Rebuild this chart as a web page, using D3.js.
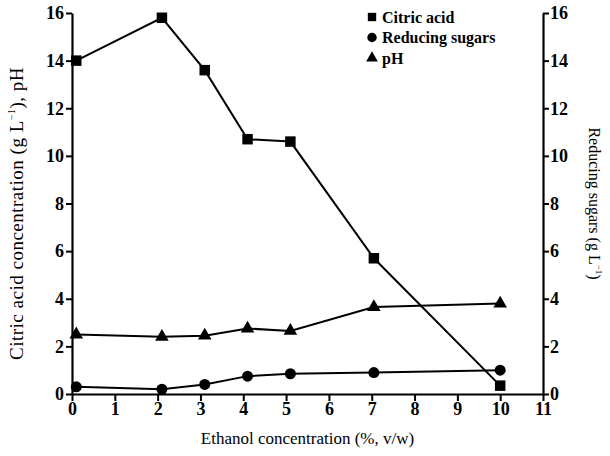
<!DOCTYPE html>
<html>
<head>
<meta charset="utf-8">
<script src="https://cdn.jsdelivr.net/npm/d3@7"></script>
<style>
  body { margin: 0; background: #fff; }
  svg { display: block; }
</style>
</head>
<body>
<div id="chart"></div>
<script>
"use strict";

// ethanol concentration (%, v/w) for each sample
var ethanol = [0.1, 2.1, 3.1, 4.1, 5.1, 7.05, 10];
// citric acid (g/L), reducing sugars (g/L), pH
var citricAcid = [14.0, 15.8, 13.6, 10.7, 10.6, 5.7, 0.35];
var reducingSugars = [0.3, 0.2, 0.4, 0.75, 0.85, 0.9, 1.0];
var pH = [2.5, 2.4, 2.45, 2.75, 2.65, 3.65, 3.8];

var xTicks = [0, 1, 2, 3, 4, 5, 6, 7, 8, 9, 10, 11];
var yTicks = [0, 2, 4, 6, 8, 10, 12, 14, 16];

var legendNames = ["Citric acid", "Reducing sugars", "pH"];

var W = 610, H = 456;
var margin = { top: 13, right: 67, bottom: 62, left: 72 };
var width = W - margin.left - margin.right,
    height = H - margin.top - margin.bottom;
var serif = "'Liberation Serif', 'Times New Roman', serif";

var svg = d3.select("#chart").append("svg")
    .attr("width", W)
    .attr("height", H)
  .append("g")
    .attr("transform", "translate(" + margin.left + "," + margin.top + ")");

// Scales
var x = d3.scaleLinear().domain([0, 11]).range([0, width]);
var yLeft = d3.scaleLinear().domain([0, 16]).range([height, 0]);
var yRight = d3.scaleLinear().domain([0, 16]).range([height, 0]);

// Axes
var xAxis = svg.append("g")
    .attr("transform", "translate(0," + height + ")")
    .call(d3.axisBottom(x).tickValues(xTicks).tickSize(7).tickSizeOuter(0).tickPadding(1));
var lAxis = svg.append("g")
    .call(d3.axisLeft(yLeft).tickValues(yTicks).tickSize(6).tickSizeOuter(0).tickPadding(2));
var rAxis = svg.append("g")
    .attr("transform", "translate(" + width + ",0)")
    .call(d3.axisRight(yRight).tickValues(yTicks).tickSize(6).tickSizeOuter(0).tickPadding(1));

[xAxis, lAxis, rAxis].forEach(function (a) {
  a.attr("font-family", null).attr("font-size", null);
  a.select(".domain").attr("stroke", "#000").attr("stroke-width", 2.2);
  a.selectAll(".tick line").attr("stroke", "#000").attr("stroke-width", 2);
  a.selectAll(".tick text")
   .attr("fill", "#000")
   .style("font-family", serif)
   .style("font-weight", "bold")
   .style("font-size", "18px");
});

// Lines
function drawSeries(vals, scale, shape, size) {
  var pts = ethanol.map(function (e, i) { return [e, vals[i]]; });
  svg.append("path")
     .datum(pts)
     .attr("fill", "none")
     .attr("stroke", "#000")
     .attr("stroke-width", 2)
     .attr("d", d3.line()
        .x(function (d) { return x(d[0]); })
        .y(function (d) { return scale(d[1]); }));
  svg.selectAll(null)
     .data(pts)
     .enter()
     .append("path")
     .attr("transform", function (d) { return "translate(" + x(d[0]) + "," + scale(d[1]) + ")"; })
     .attr("d", d3.symbol().type(shape).size(size))
     .attr("fill", "#000");
}

drawSeries(citricAcid, yLeft, d3.symbolSquare, 110);
drawSeries(pH, yLeft, d3.symbolTriangle, 80);
drawSeries(reducingSugars, yRight, d3.symbolCircle, 95);

// Legend
var legendShapes = [d3.symbolSquare, d3.symbolCircle, d3.symbolTriangle];
var legendSizes = [70, 70, 60];
var legend = svg.append("g").attr("transform", "translate(300,4)");
legendNames.forEach(function (name, i) {
  var row = legend.append("g").attr("transform", "translate(0," + (i * 20.5) + ")");
  row.append("path")
     .attr("d", d3.symbol().type(legendShapes[i]).size(legendSizes[i]))
     .attr("fill", "#000");
  row.append("text")
     .attr("x", 10)
     .attr("y", 5.5)
     .style("font-family", serif)
     .style("font-weight", "bold")
     .style("font-size", "16px")
     .text(name);
});

// Axis titles
svg.append("text")
   .attr("x", width / 2)
   .attr("y", height + 50)
   .attr("text-anchor", "middle")
   .style("font-family", serif)
   .style("font-size", "17px")
   .text("Ethanol concentration (%, v/w)");

var lt = svg.append("text")
   .attr("transform", "translate(-49," + (height / 2 + 10) + ") rotate(-90)")
   .attr("text-anchor", "middle")
   .style("font-family", serif)
   .style("font-size", "19px")
   .style("letter-spacing", "0.5px");
lt.append("tspan").text("Citric acid concentration (g L");
lt.append("tspan").attr("dy", -8).style("font-size", "10px").text("−1");
lt.append("tspan").attr("dy", 8).text("), pH");

var rt = svg.append("text")
   .attr("transform", "translate(" + (width + 46) + "," + (height / 2) + ") rotate(90)")
   .attr("text-anchor", "middle")
   .style("font-family", serif)
   .style("font-size", "16px");
rt.append("tspan").text("Reducing sugars (g L");
rt.append("tspan").attr("dy", -7).style("font-size", "9px").text("−1");
rt.append("tspan").attr("dy", 7).text(")");
</script>
</body>
</html>
